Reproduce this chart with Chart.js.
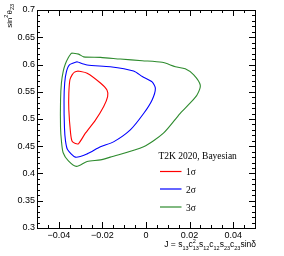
<!DOCTYPE html>
<html>
<head>
<meta charset="utf-8">
<script src="https://cdn.jsdelivr.net/npm/chart.js@4/dist/chart.umd.min.js"></script>
<style>
  html, body { margin: 0; padding: 0; background: #fff; }
</style>
</head>
<body>
<canvas id="grafico" width="284" height="256"></canvas>
<script>
// Eixos
const xMin = -0.05, xMax = 0.05;
const yMin = 0.3, yMax = 0.7;
const xTicks = [-0.04, -0.02, 0, 0.02, 0.04];
const yTicks = [0.3, 0.35, 0.4, 0.45, 0.5, 0.55, 0.6, 0.65, 0.7];

// Contornos
const sigma1X = [-0.0311, -0.0270, -0.0209, -0.0179, -0.0176, -0.0194, -0.0232, -0.0278, -0.0309, -0.0324, -0.0339, -0.0346, -0.0354, -0.0354, -0.0349, -0.0339, -0.0328, -0.0311];
const sigma1Y = [0.588, 0.584, 0.566, 0.553, 0.541, 0.523, 0.498, 0.474, 0.455, 0.455, 0.459, 0.474, 0.517, 0.547, 0.572, 0.581, 0.586, 0.588];

const sigma2X = [-0.0316, -0.0270, -0.0164, -0.0057, -0.0017, 0.0028, 0.0043, 0.0028, -0.0011, -0.0072, -0.0149, -0.0209, -0.0270, -0.0324, -0.0360, -0.0369, -0.0374, -0.0376, -0.0373, -0.0365, -0.0352, -0.0316];
const sigma2Y = [0.605, 0.599, 0.596, 0.588, 0.578, 0.568, 0.556, 0.535, 0.510, 0.480, 0.458, 0.449, 0.436, 0.430, 0.444, 0.459, 0.484, 0.535, 0.566, 0.587, 0.599, 0.605];

const sigma3X = [-0.0342, -0.0309, -0.0286, -0.0209, -0.0118, -0.0017, 0.0074, 0.0135, 0.0180, 0.0219, 0.0249, 0.0234, 0.0202, 0.0156, 0.0080, -0.0011, -0.0164, -0.0209, -0.0270, -0.0319, -0.0356, -0.0380, -0.0388, -0.0392, -0.0392, -0.0388, -0.0380, -0.0370, -0.0356, -0.0342];
const sigma3Y = [0.621, 0.619, 0.614, 0.613, 0.610, 0.607, 0.604, 0.596, 0.592, 0.581, 0.562, 0.544, 0.529, 0.510, 0.474, 0.449, 0.430, 0.425, 0.422, 0.413, 0.423, 0.438, 0.460, 0.484, 0.535, 0.566, 0.587, 0.601, 0.613, 0.621];

const legendTitle = "T2K 2020, Bayesian";
const sigmaLabels = ["1σ", "2σ", "3σ"];
const sigmaColors = ["#ff0000", "#0000ff", "#2e8b2e"];

function pontos(xs, ys) {
  return xs.map((x, i) => ({ x: x, y: ys[i] }));
}

function formatarTick(v) {
  if (Math.abs(v) < 1e-9) return "0";
  const s = String(Number(v.toFixed(3)));
  return s.replace("-", "\u2212");
}

// Texto com índices e expoentes
function medirRico(ctx, partes, tam, tamMenor, familia) {
  let w = 0;
  partes.forEach(p => {
    if (p.t) {
      ctx.font = tam + "px " + familia;
      w += ctx.measureText(p.t).width;
    } else {
      ctx.font = tamMenor + "px " + familia;
      w += Math.max(p.sub ? ctx.measureText(p.sub).width : 0, p.sup ? ctx.measureText(p.sup).width : 0);
    }
  });
  return w;
}

function desenharRico(ctx, partes, x, y, tam, tamMenor, familia) {
  let cx = x;
  ctx.textAlign = "left";
  ctx.textBaseline = "alphabetic";
  partes.forEach(p => {
    if (p.t) {
      ctx.font = tam + "px " + familia;
      ctx.fillText(p.t, cx, y);
      cx += ctx.measureText(p.t).width;
    } else {
      ctx.font = tamMenor + "px " + familia;
      let w = 0;
      if (p.sub) {
        ctx.fillText(p.sub, cx, y + tam * 0.3);
        w = Math.max(w, ctx.measureText(p.sub).width);
      }
      if (p.sup) {
        ctx.fillText(p.sup, cx, y - tam * 0.45);
        w = Math.max(w, ctx.measureText(p.sup).width);
      }
      cx += w;
    }
  });
}

const tituloX = [
  { t: "J = s" }, { sub: "13" }, { t: "c" }, { sub: "13", sup: "2" },
  { t: "s" }, { sub: "12" }, { t: "c" }, { sub: "12" },
  { t: "s" }, { sub: "23" }, { t: "c" }, { sub: "23" }, { t: "sin\u03b4" }
];
const tituloY = [{ t: "sin" }, { sup: "2" }, { t: "\u03b8" }, { sub: "23" }];

// Plugin: moldura, marcas internas, títulos e legenda
const molduraPlugin = {
  id: "moldura",
  afterDatasetsDraw(chart) {
    const ctx = chart.ctx;
    const area = chart.chartArea;
    const sx = chart.scales.x, sy = chart.scales.y;
    ctx.save();
    ctx.strokeStyle = "#000";
    ctx.lineWidth = 1;
    ctx.strokeRect(area.left + 0.5, area.top + 0.5, area.right - area.left, area.bottom - area.top);

    ctx.beginPath();
    for (let i = 0; i <= 20; i++) {
      const v = xMin + i * 0.005;
      const px = Math.round(sx.getPixelForValue(v)) + 0.5;
      const len = (i % 4 === 2) ? 6 : 3;
      ctx.moveTo(px, area.bottom);
      ctx.lineTo(px, area.bottom - len);
      ctx.moveTo(px, area.top);
      ctx.lineTo(px, area.top + len);
    }
    for (let i = 0; i <= 40; i++) {
      const v = yMin + i * 0.01;
      const py = Math.round(sy.getPixelForValue(v)) + 0.5;
      const len = (i % 5 === 0) ? 6 : 3;
      ctx.moveTo(area.left, py);
      ctx.lineTo(area.left + len, py);
      ctx.moveTo(area.right, py);
      ctx.lineTo(area.right - len, py);
    }
    ctx.stroke();

    ctx.fillStyle = "#000";
    const fam = "'Liberation Sans', Arial, sans-serif";
    // título X, alinhado à direita
    const wx = medirRico(ctx, tituloX, 8.5, 5.5, fam);
    desenharRico(ctx, tituloX, area.right + 1 - wx, 247, 8.5, 5.5, fam);
    // título Y, rodado
    const wy = medirRico(ctx, tituloY, 8, 5.5, fam);
    ctx.save();
    ctx.translate(11.5, 4);
    ctx.rotate(-Math.PI / 2);
    desenharRico(ctx, tituloY, -wy, 0, 8, 5.5, fam);
    ctx.restore();

    // legenda
    const serif = "'Liberation Serif', 'Times New Roman', serif";
    ctx.font = "9.5px " + serif;
    ctx.textAlign = "left";
    ctx.textBaseline = "alphabetic";
    ctx.fillText(legendTitle, 158.5, 159);
    const linhasY = [171.5, 189, 207];
    sigmaLabels.forEach((lab, i) => {
      ctx.strokeStyle = sigmaColors[i];
      ctx.lineWidth = 1.2;
      ctx.beginPath();
      ctx.moveTo(160, linhasY[i]);
      ctx.lineTo(181.5, linhasY[i]);
      ctx.stroke();
      ctx.fillText(lab, 186, linhasY[i] + 3.5);
    });
    ctx.restore();
  }
};

function criarDataset(rotulo, xs, ys, cor) {
  return {
    label: rotulo,
    data: pontos(xs, ys),
    showLine: true,
    borderColor: cor,
    backgroundColor: cor,
    borderWidth: 1.1,
    pointRadius: 0,
    tension: 0.25,
    fill: false,
  };
}

const ctx = document.getElementById("grafico").getContext("2d");
new Chart(ctx, {
  type: "scatter",
  data: {
    datasets: [
      criarDataset(sigmaLabels[0], sigma1X, sigma1Y, sigmaColors[0]),
      criarDataset(sigmaLabels[1], sigma2X, sigma2Y, sigmaColors[1]),
      criarDataset(sigmaLabels[2], sigma3X, sigma3Y, sigmaColors[2]),
    ],
  },
  options: {
    responsive: false,
    animation: false,
    layout: { padding: { left: 0, right: 29, top: 10, bottom: 0 } },
    plugins: {
      legend: { display: false },
      tooltip: { enabled: false },
    },
    scales: {
      x: {
        type: "linear",
        min: xMin,
        max: xMax,
        grid: { display: false, drawTicks: false },
        border: { display: false },
        afterBuildTicks: (scale) => { scale.ticks = xTicks.map(v => ({ value: v })); },
        afterFit: (scale) => { scale.height = 28; },
        ticks: {
          color: "#000",
          padding: 2,
          maxRotation: 0,
          font: { family: "'Liberation Sans', Arial, sans-serif", size: 9 },
          callback: (v) => formatarTick(v),
        },
      },
      y: {
        type: "linear",
        min: yMin,
        max: yMax,
        grid: { display: false, drawTicks: false },
        border: { display: false },
        afterBuildTicks: (scale) => { scale.ticks = yTicks.map(v => ({ value: v })); },
        afterFit: (scale) => { scale.width = 37; },
        ticks: {
          color: "#000",
          padding: 2,
          font: { family: "'Liberation Sans', Arial, sans-serif", size: 9 },
          callback: (v) => formatarTick(v),
        },
      },
    },
  },
  plugins: [molduraPlugin],
});
</script>
</body>
</html>
